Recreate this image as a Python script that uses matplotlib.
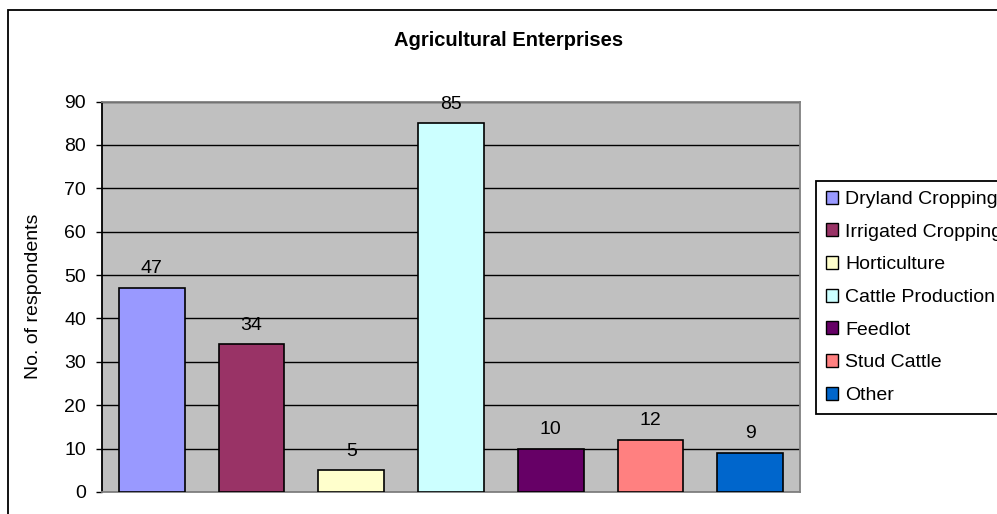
import matplotlib
matplotlib.use("Agg")
import matplotlib.pyplot as plt
from matplotlib.patches import Rectangle, Patch

categories = ["Dryland Cropping", "Irrigated Cropping", "Horticulture",
              "Cattle Production", "Feedlot", "Stud Cattle", "Other"]
values = [47, 34, 5, 85, 10, 12, 9]
colors = ["#9999FF", "#993366", "#FFFFCC", "#CCFFFF", "#660066", "#FF8080", "#0066CC"]
yticks = [0, 10, 20, 30, 40, 50, 60, 70, 80, 90]
title = "Agricultural Enterprises"
ylabel = "No. of respondents"

plt.rcParams['font.family'] = ['Liberation Sans', 'DejaVu Sans']
W, H = 997, 514
fig = plt.figure(figsize=(W / 100, H / 100), dpi=100)

# outer chart border (extends beyond the image on right/bottom)
fig.patches.append(Rectangle((8 / W, -0.2), 1.5, (1 - 10.5 / H) + 0.2,
                             transform=fig.transFigure, fill=False,
                             edgecolor="black", linewidth=1.3, zorder=0))

ax = fig.add_axes([102 / W, 1 - 492 / H, (800 - 102) / W, (492 - 101.5) / H])
ax.set_facecolor("#C0C0C0")
ax.set_axisbelow(True)
ax.yaxis.grid(True, color="black", linewidth=1.0)

for i, (v, c, lab) in enumerate(zip(values, colors, categories)):
    ax.bar(i, v, width=0.66, color=c, edgecolor="black", linewidth=1.2, label=lab, zorder=3)
    ax.annotate(str(v), (i, v), xytext=(0, 10.5), textcoords="offset points",
                ha="center", va="baseline", fontsize=14)

ax.set_xlim(-0.5, len(values) - 0.5)
ax.set_ylim(0, 90)
ax.set_yticks(yticks)
ax.set_yticklabels([str(t) for t in yticks], fontsize=14)
ax.tick_params(axis="y", direction="out", length=4.5, width=1.0, pad=7, color="black")
ax.set_xticks([])
for s in ["top", "right", "bottom"]:
    ax.spines[s].set_color("#808080")
    ax.spines[s].set_linewidth(1.3)
ax.spines["left"].set_color("black")
ax.spines["left"].set_linewidth(1.3)

ax.set_ylabel(ylabel, fontsize=14)
ax.yaxis.set_label_coords((42 - 102) / (800 - 102), 0.5)

fig.text(509 / W, 1 - 41 / H, title, ha="center", va="center",
         fontsize=14.5, fontweight="bold")

handles = [Patch(facecolor=c, edgecolor="black", linewidth=1.0) for c in colors]
leg = fig.legend(handles, categories, loc="upper left",
                 bbox_to_anchor=(816 / W, 1 - 181 / H), bbox_transform=fig.transFigure,
                 fontsize=14, frameon=True, fancybox=False, framealpha=1,
                 edgecolor="black", handlelength=0.65, handleheight=0.65,
                 handletextpad=0.36, labelspacing=0.79, borderpad=0.5,
                 borderaxespad=0)
leg.get_frame().set_linewidth(1.3)

fig.savefig("out.png", dpi=100)
